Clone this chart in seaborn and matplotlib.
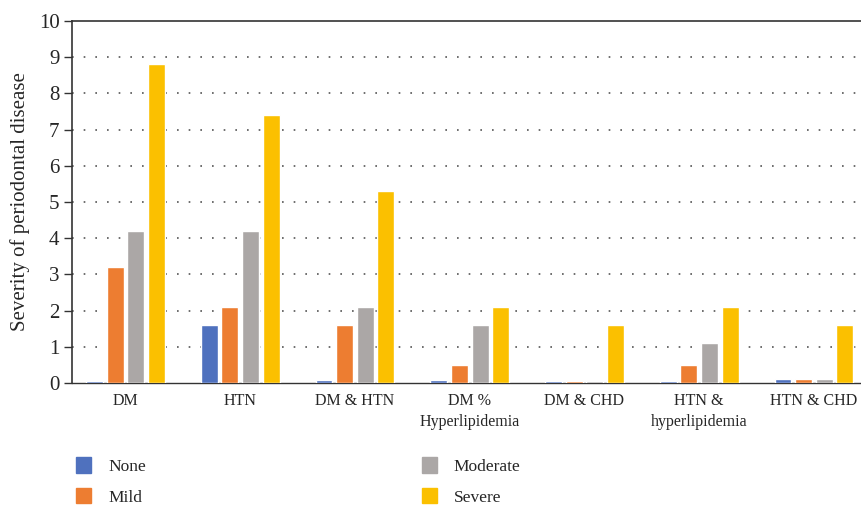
import matplotlib
matplotlib.use("Agg")
import matplotlib.pyplot as plt
import pandas as pd
import seaborn as sns

# data
groups = ["DM", "HTN", "DM & HTN", "DM %\nHyperlipidemia", "DM & CHD",
          "HTN &\nhyperlipidemia", "HTN & CHD"]
severity = ["None", "Mild", "Moderate", "Severe"]
none_vals = [0.06, 1.6, 0.09, 0.09, 0.06, 0.06, 0.1]
mild_vals = [3.2, 2.1, 1.6, 0.5, 0.06, 0.5, 0.1]
moderate_vals = [4.2, 4.2, 2.1, 1.6, 0.06, 1.1, 0.1]
severe_vals = [8.8, 7.4, 5.3, 2.1, 1.6, 2.1, 1.6]
colors = ["#4F71BE", "#ED7D31", "#ABA7A6", "#FBC000"]

rows = []
for name, vals in zip(severity, [none_vals, mild_vals, moderate_vals, severe_vals]):
    for g, v in zip(groups, vals):
        rows.append({"Group": g, "Severity": name, "Value": v})
df = pd.DataFrame(rows)

sns.set_style("white")
plt.rcParams["font.family"] = ["Liberation Serif", "DejaVu Serif"]

fig = plt.figure(figsize=(8.61, 5.05), dpi=100)
ax = fig.add_axes([72 / 861, 122 / 505, 789 / 861, 362 / 505])

sns.barplot(data=df, x="Group", y="Value", hue="Severity", order=groups,
            hue_order=severity, palette=colors, width=0.72, gap=0.18,
            saturation=1, ax=ax)

ax.set_ylim(0, 10)
ax.set_yticks(range(0, 11))
ax.set_xlim(-0.466, 6.41)
ax.set_xlabel("")
ax.set_ylabel("Severity of periodontal disease", fontsize=15, labelpad=6)
ax.tick_params(axis="y", labelsize=15, length=6, width=1, color="#333333",
               direction="out", left=True, pad=3)
ax.tick_params(axis="x", labelsize=11.5, length=0, pad=7)
for lab in ax.get_xticklabels():
    lab.set_linespacing(1.45)

for y in range(1, 10):
    ax.axhline(y, color="#555555", linestyle=(0, (1, 6)), linewidth=1.2, zorder=0)

for s in ["top", "left", "bottom"]:
    ax.spines[s].set_visible(True)
    ax.spines[s].set_color("#333333")
    ax.spines[s].set_linewidth(1.2)
ax.spines["bottom"].set_linewidth(1.0)
ax.spines["bottom"].set_zorder(0.5)
ax.spines["right"].set_visible(False)

ax.legend_.remove()
handles = [plt.Rectangle((0, 0), 1, 1, color=c) for c in colors]
fig.legend(handles, severity, loc="lower left", bbox_to_anchor=(0.07, -0.032),
           ncol=2, frameon=False, fontsize=12.5, columnspacing=15.9,
           handlelength=0.85, handleheight=1.0, handletextpad=1.0,
           labelspacing=0.75)

fig.savefig("out.png", dpi=100)
